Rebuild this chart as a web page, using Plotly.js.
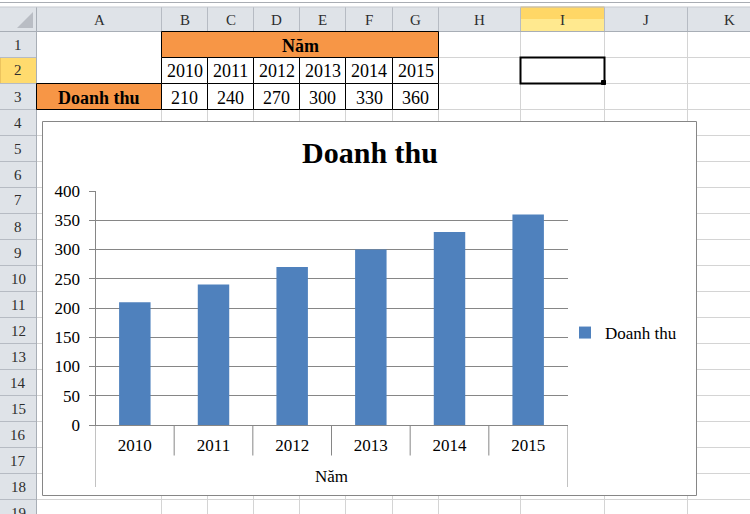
<!DOCTYPE html>
<html><head><meta charset="utf-8">
<script src="https://cdn.plot.ly/plotly-3.0.1.min.js"></script>
<style>html,body{margin:0;padding:0;background:#fff;overflow:hidden}</style>
</head><body><div id="chart" style="width:750px;height:514px"></div>
<script>
// ---- data ----
const years = ['2010', '2011', '2012', '2013', '2014', '2015'];
const revenue = [210, 240, 270, 300, 330, 360];
const seriesName = 'Doanh thu';
const chartTitle = 'Doanh thu';
const axisTitle = 'Năm';
const colLetters = ['A', 'B', 'C', 'D', 'E', 'F', 'G', 'H', 'I', 'J', 'K'];
const rowNumbers = [1, 2, 3, 4, 5, 6, 7, 8, 9, 10, 11, 12, 13, 14, 15, 16, 17, 18, 19];
const yTickValues = [0, 50, 100, 150, 200, 250, 300, 350, 400];

// ---- geometry (pixels) ----
const W = 750, H = 514;
const X = p => p / W;
const Y = p => 1 - p / H;
const colEdges = [36.5, 161.5, 207.5, 253.5, 299.5, 345.5, 392.5, 438.5, 520.5, 604.5, 687.5, 770.5];
const rowTop = 31.5, rowH = 26;
const rowEdge = i => rowTop + rowH * i;
const hdrTop = 7;

const SERIF = 'Liberation Serif, Times New Roman, serif';
const GRID = '#D4D4D4', HDRBG = '#DFE3E8', HDRLINE = '#B6BBC3', ORANGE = '#F79646', AXIS = '#868686';

const shapes = [];
const ann = [];
function rect(x0, y0, x1, y1, fill, line, lw, ref) {
  shapes.push({type: 'rect', xref: ref || 'paper', yref: 'paper', x0: ref ? x0 : X(x0), x1: ref ? x1 : X(x1),
    y0: Y(y0), y1: Y(y1), fillcolor: fill || 'rgba(0,0,0,0)',
    line: {color: line || 'rgba(0,0,0,0)', width: line ? (lw || 1) : 0}, layer: 'below'});
}
function line(x0, y0, x1, y1, color, w, xref) {
  shapes.push({type: 'line', xref: xref || 'paper', yref: 'paper', x0: xref ? x0 : X(x0), x1: xref ? x1 : X(x1),
    y0: Y(y0), y1: Y(y1), line: {color: color, width: w || 1}, layer: 'below'});
}
function text(x, y, t, size, bold, color) {
  ann.push({xref: 'paper', yref: 'paper', x: X(x), y: Y(y), text: bold ? '<b>' + t + '</b>' : String(t),
    showarrow: false, xanchor: 'center', yanchor: 'middle',
    font: {family: SERIF, size: size, color: color || '#000'}});
}

// top strip
line(0, 2.5, 750, 2.5, '#A9ADB3', 1);
// header backgrounds
rect(0, hdrTop, 750, rowTop, HDRBG);
rect(0, rowTop, 36.5, 514, HDRBG);
// corner triangle
shapes.push({type: 'path', xref: 'paper', yref: 'paper', layer: 'below',
  path: `M ${X(33)} ${Y(12)} L ${X(33)} ${Y(28)} L ${X(17)} ${Y(28)} Z`,
  fillcolor: '#B9BDC4', line: {width: 0}});
// selected headers
rect(colEdges[8], hdrTop, colEdges[9], 19, '#FFD766');
rect(colEdges[8], 19, colEdges[9], rowTop, '#FFE98F');
rect(colEdges[8], hdrTop, colEdges[9], rowTop, null, '#D9AE4F', 1);
rect(0, rowEdge(1), 36.5, rowEdge(2), '#FFDB6E', '#D9AE4F', 1);
// cell gridlines
for (let i = 1; i < colEdges.length; i++) line(colEdges[i], rowTop, colEdges[i], 514, GRID);
for (let r = 1; r <= 19; r++) line(36.5, rowEdge(r), 750, rowEdge(r), GRID);
// header separators
for (let i = 0; i < colEdges.length; i++) line(colEdges[i], hdrTop, colEdges[i], rowTop, HDRLINE);
for (let r = 1; r <= 19; r++) line(0, rowEdge(r), 36.5, rowEdge(r), HDRLINE);
line(0, rowTop, 750, rowTop, '#A8AEB6');
line(36.5, hdrTop, 36.5, 514, '#A8AEB6');
line(0, hdrTop, 750, hdrTop, '#C5C9CF');
// header labels
colLetters.forEach((c, i) => text((colEdges[i] + colEdges[i + 1]) / 2, 20, c, 15, false, '#2E2E2E'));
rowNumbers.forEach((n, i) => text(18, rowEdge(i) + 13, n, 15, false, '#2E2E2E'));

// table cells
rect(37, 32, 161, 83, '#FFFFFF');                    // merged A1:A2
rect(colEdges[1], rowEdge(0), colEdges[7], rowEdge(1), ORANGE, '#000', 1);  // B1:G1
rect(colEdges[0], rowEdge(2), colEdges[1], rowEdge(3), ORANGE, '#000', 1);  // A3
for (let i = 0; i < years.length; i++) {
  rect(colEdges[i + 1], rowEdge(1), colEdges[i + 2], rowEdge(2), '#FFFFFF', '#000', 1);
  rect(colEdges[i + 1], rowEdge(2), colEdges[i + 2], rowEdge(3), '#FFFFFF', '#000', 1);
  const cx = (colEdges[i + 1] + colEdges[i + 2]) / 2;
  text(cx, rowEdge(1) + 14, years[i], 18);
  text(cx, rowEdge(2) + 14, revenue[i], 18);
}
text((colEdges[1] + colEdges[7]) / 2, rowEdge(0) + 14, axisTitle, 18, true);
text((colEdges[0] + colEdges[1]) / 2, rowEdge(2) + 14, seriesName, 18, true);
// active cell I2
rect(colEdges[8], rowEdge(1), colEdges[9], rowEdge(2), null, '#000', 2);
rect(601.5, 80.5, 605.5, 84.5, '#000', '#000', 1);

// chart area
rect(42.5, 121.5, 696.5, 495.5, '#FFFFFF', AXIS, 1);
// category axis: dividers between categories and outer lines (multi-level look)
for (let i = 1; i < years.length; i++) line(i - 0.5, 425, i - 0.5, 455.5, AXIS, 1, 'x');
line(-0.5, 425, -0.5, 487, AXIS, 1, 'x');
line(years.length - 0.5, 425, years.length - 0.5, 487, AXIS, 1, 'x');

const trace = {
  type: 'bar', x: years, y: revenue, name: seriesName,
  marker: {color: '#4F81BD', line: {width: 0}}, hoverinfo: 'skip', showlegend: true
};

const layout = {
  width: W, height: H, margin: {l: 0, r: 0, t: 0, b: 0, pad: 0},
  paper_bgcolor: '#FFFFFF', plot_bgcolor: 'rgba(0,0,0,0)',
  bargap: 0.6, showlegend: true,
  title: {text: '<b>' + chartTitle + '</b>', x: X(370), xanchor: 'center', xref: 'paper',
    y: Y(152), yanchor: 'middle', yref: 'paper',
    font: {family: SERIF, size: 30, color: '#000'}},
  xaxis: {
    domain: [X(95.5), X(567.5)], type: 'category', range: [-0.5, years.length - 0.5],
    ticks: '', showline: true, linecolor: AXIS, linewidth: 1, showgrid: false, zeroline: false,
    ticklabelstandoff: 5,
    tickfont: {family: SERIF, size: 17, color: '#000'},
    title: {text: axisTitle, font: {family: SERIF, size: 17, color: '#000'}, standoff: 15},
    fixedrange: true, automargin: false
  },
  yaxis: {
    domain: [Y(425), Y(191)], range: [0, 400], tickvals: yTickValues,
    ticks: 'outside', ticklen: 6, tickcolor: AXIS, tickwidth: 1,
    showgrid: true, gridcolor: AXIS, gridwidth: 1, zeroline: false,
    showline: true, linecolor: AXIS, linewidth: 1,
    ticklabelstandoff: 5,
    tickfont: {family: SERIF, size: 17, color: '#000'},
    fixedrange: true, automargin: false
  },
  legend: {x: X(565), y: Y(333), xanchor: 'left', yanchor: 'middle', xref: 'paper', yref: 'paper',
    bgcolor: 'rgba(0,0,0,0)', borderwidth: 0, font: {family: SERIF, size: 17, color: '#000'}},
  shapes: shapes, annotations: ann
};

Plotly.newPlot('chart', [trace], layout, {displayModeBar: false, staticPlot: true});
</script></body></html>
